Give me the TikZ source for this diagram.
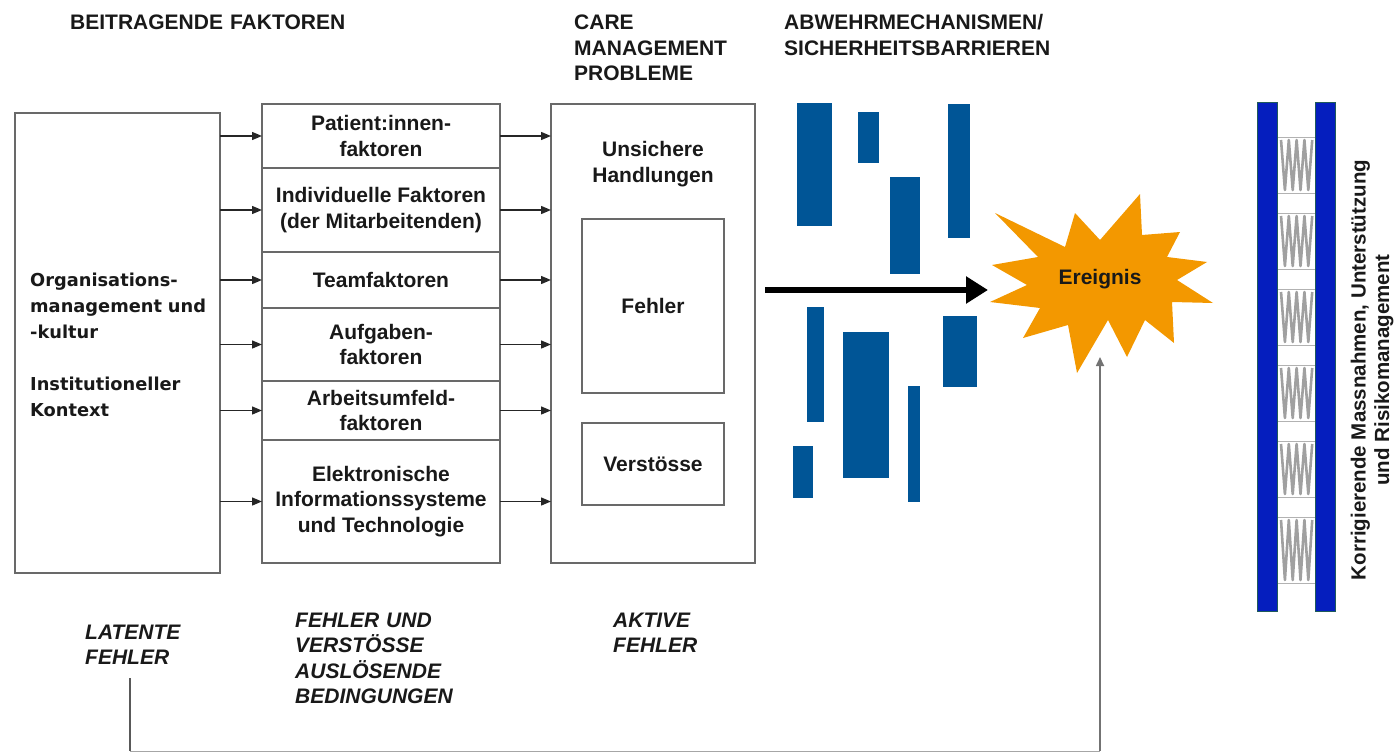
\documentclass[tikz,border=0pt]{standalone}
\usepackage{fontspec}
\setmainfont{Liberation Sans}
\newfontfamily\leftfont{DejaVu Sans}
\usetikzlibrary{arrows.meta,calc}
\definecolor{barblue}{RGB}{0,85,150}
\definecolor{railblue}{RGB}{5,30,190}
\definecolor{railedge}{RGB}{30,90,90}
\definecolor{starorange}{RGB}{243,152,0}
\definecolor{boxline}{RGB}{105,105,105}
\definecolor{txt}{RGB}{25,25,25}
\definecolor{springgray}{RGB}{160,160,160}
\begin{document}
\begin{tikzpicture}[x=1pt,y=-1pt,
  every node/.style={text=txt},
  bigfont/.style={font=\fontsize{21}{25.5}\selectfont\bfseries},
  hdr/.style={bigfont, anchor=base west, inner sep=0pt, text width=320pt, align=left},
  bot/.style={font=\fontsize{21}{25.5}\selectfont\bfseries\itshape, anchor=base west, inner sep=0pt, text width=220pt, align=left},
  boxst/.style={draw=boxline, line width=1.6pt, inner sep=0pt, outer sep=0pt, anchor=north west},
  row/.style={boxst, bigfont, minimum width=238pt, align=center},
  arr/.style={draw=black!85, line width=1.4pt, -{Triangle[length=10pt,width=8pt]}},
  bigarr/.style={draw=black, line width=6pt, -{Triangle[length=22pt,width=26pt]}},
  fbline/.style={draw=black!65, line width=1.6pt},
  fbthin/.style={draw=black!35, line width=1pt},
  plate/.style={draw=black!30, line width=0.8pt},
  coil/.style={draw=springgray, line width=2.6pt, line join=round}
]
\useasboundingbox (0,0) rectangle (1396,754);

% headers
\node[hdr] (h1) at (70,30) {BEITRAGENDE FAKTOREN};
\node[hdr] (h2) at (574,30) {CARE\\MANAGEMENT\\PROBLEME};
\node[hdr] (h3) at (784,30) {ABWEHRMECHANISMEN/\\SICHERHEITSBARRIEREN};

% left box
\node[boxst, minimum width=205pt, minimum height=460pt] (L) at (15,113) {};
\node[anchor=base west, inner sep=0pt, text width=190pt, align=left,
      font=\leftfont\fontsize{17.8}{26}\selectfont\bfseries] (Ltxt) at (30,286)
  {Organisations-\\management und\\-kultur\\[26pt]Institutioneller\\Kontext};

% middle column of factors
\node[row, minimum height=64pt] (r1) at (262,104) {Patient:innen-\\faktoren};
\node[row, minimum height=84pt] (r2) at (262,168) {Individuelle Faktoren\\(der Mitarbeitenden)};
\node[row, minimum height=56pt] (r3) at (262,252) {Teamfaktoren};
\node[row, minimum height=73pt] (r4) at (262,308) {Aufgaben-\\faktoren};
\node[row, minimum height=59pt] (r5) at (262,381) {Arbeitsumfeld-\\faktoren};
\node[row, minimum height=123pt] (r6) at (262,440) {Elektronische\\Informationssysteme\\und Technologie};

% care management box
\node[boxst, minimum width=204pt, minimum height=459pt] (C) at (551,104) {};
\node[bigfont, align=center, inner sep=0pt] (uh) at (653,164) {Unsichere\\Handlungen};
\node[boxst, bigfont, minimum width=142pt, minimum height=174pt] (F) at (582,219) {Fehler};
\node[boxst, bigfont, minimum width=142pt, minimum height=82pt] (V) at (582,423) {Verstösse};

% arrows
\foreach \r in {r1,r2,r3,r4,r5,r6}{
  \draw[arr] (\r.west -| L.east) -- (\r.west);
  \draw[arr] (\r.east) -- (\r.east -| C.west);
}

% barriers
\fill[barblue] (797,103) rectangle (832,226);
\fill[barblue] (858,112) rectangle (879,163);
\fill[barblue] (890,177) rectangle (920,274);
\fill[barblue] (948,104) rectangle (970,238);
\fill[barblue] (807,307) rectangle (824,422);
\fill[barblue] (843,332) rectangle (889,478);
\fill[barblue] (908,386) rectangle (920,502);
\fill[barblue] (793,446) rectangle (813,498);
\fill[barblue] (943,316) rectangle (977,387);

% star
\fill[starorange] (995,213) -- (1065,247) -- (1075,213) -- (1100,240) -- (1140,194)
  -- (1142,235) -- (1180,232) -- (1167,257) -- (1207,262) -- (1177,280) -- (1213,303)
  -- (1172,302) -- (1174,343) -- (1145,320) -- (1127,357) -- (1108,320) -- (1077,373)
  -- (1068,325) -- (1023,338) -- (1040,308) -- (990,302) -- (1027,285) -- (992,265)
  -- (1038,257) -- cycle;
\node[bigfont, inner sep=0pt] (ev) at (1100,279) {Ereignis};

% big arrow
\coordinate (ba1) at (765,290);
\coordinate (ba2) at (988,290);
\draw[bigarr] (ba1) -- (ba2);

% bottom labels
\node[bot] (lat) at (85,639) {LATENTE\\FEHLER};
\node[bot] (fuv) at (295,627) {FEHLER UND\\VERSTÖSSE\\AUSLÖSENDE\\BEDINGUNGEN};
\node[bot] (akt) at (613,627) {AKTIVE\\FEHLER};

% feedback line
\coordinate (fb0) at (130,678);
\coordinate (fb1) at (130,751);
\coordinate (fb2) at (1100,751);
\coordinate (fb3) at (1100,357);
\draw[fbline] (fb0) -- (fb1);
\draw[fbthin] (fb1) -- (fb2);
\draw[fbline, -{Triangle[length=9pt,width=8pt]}, draw=black!55] (fb2) -- (fb3);

% springs between rails
\foreach \t/\h in {137/56,213/56,289/56,365/56,441/56,517/66}{
  \draw[plate] (1277,\t) -- (1315,\t);
  \draw[plate] (1277,\t+\h) -- (1315,\t+\h);
  \draw[coil] (1281,\t+3) \foreach \k in {1,...,8}{ -- ({1281+\k*3.9}, {\t+3+mod(\k,2)*(\h-6)}) };
}
% rails
\fill[railblue, draw=railedge, line width=0.8pt] (1257,102) rectangle (1277,611);
\fill[railblue, draw=railedge, line width=0.8pt] (1315,102) rectangle (1335,611);

% right label
\node[rotate=90, align=center, inner sep=0pt, font=\fontsize{20.5}{23.5}\selectfont\bfseries] (km) at (1372,370)
  {Korrigierende Massnahmen, Unterstützung\\und Risikomanagement};
\end{tikzpicture}
\end{document}
